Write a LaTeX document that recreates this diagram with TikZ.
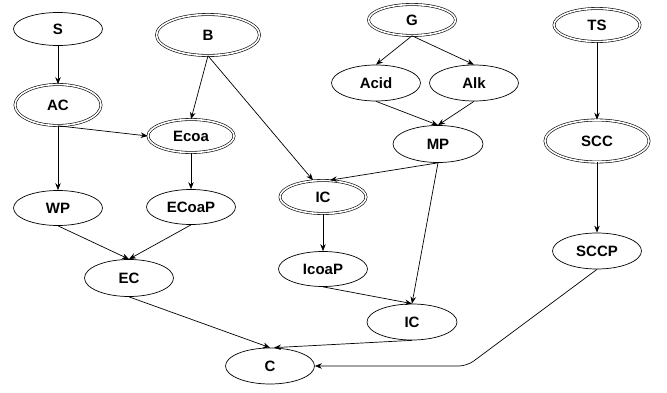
\documentclass[tikz,border=0pt]{standalone}
\usepackage{fontspec}
\setmainfont{Liberation Sans}
\usetikzlibrary{arrows.meta,shapes.geometric}

\begin{document}
\begin{tikzpicture}[x=1pt,y=1pt,>={Stealth[length=7pt,width=5.5pt]},
  font=\fontsize{15}{17}\selectfont\bfseries,
  st/.style={ellipse,draw,line width=0.7pt,inner sep=0pt,minimum width=89pt,minimum height=36pt},
  dbl/.style={st,double,double distance=1.6pt,line width=0.6pt},
  every path/.style={line width=0.7pt}]
\useasboundingbox (0,0) rectangle (667,-393);
% top row and left branch
\node[st,minimum height=33pt] (S) at (58,-29) {S};
\node[dbl,minimum width=103pt,minimum height=41pt] (B) at (208,-35) {B};
\node[dbl,minimum width=86pt,minimum height=41pt] (AC) at (58,-105) {AC};
\node[dbl,minimum width=86pt,minimum height=33pt] (Ecoa) at (191,-136) {Ecoa};
\node[st,minimum height=35pt] (WP) at (58,-208) {WP};
\node[st,minimum height=35pt] (ECoaP) at (191,-207) {ECoaP};
\node[st,minimum height=37pt] (EC) at (129,-278) {EC};
\node[st] (C) at (270,-366) {C};
% middle branch
\node[dbl,minimum width=87pt,minimum height=31pt] (G) at (412,-20) {G};
\node[st] (Acid) at (376,-83) {Acid};
\node[st] (Alk) at (474,-83) {Alk};
\node[st,minimum width=90pt,minimum height=37pt] (MP) at (438,-144) {MP};
\node[dbl,minimum width=86pt,minimum height=33pt] (ICa) at (323,-197) {IC};
\node[st,minimum height=35pt] (IcoaP) at (323,-269) {IcoaP};
\node[st,minimum width=90pt] (ICb) at (412,-322) {IC};
% right branch
\node[dbl,minimum width=86pt,minimum height=33pt] (TS) at (597,-25) {TS};
\node[dbl,minimum width=104pt,minimum height=42pt] (SCC) at (597,-141) {SCC};
\node[st] (SCCP) at (597,-251) {SCCP};
\coordinate (bend) at (467,-366);

\draw[->] (S) -- (AC);
\draw[->] (AC.south) -- (WP);
\draw[->] (AC.south) -- (Ecoa.west);
\draw[->] (B.south) -- (Ecoa.north);
\draw[->] (B.south) -- ([xshift=-10pt]ICa.north);
\draw[->] (Ecoa) -- (ECoaP);
\draw[->] (WP.south) -- (EC.north);
\draw[->] (ECoaP.south) -- (EC.north);
\draw[->] (EC.south) -- (C.north);
\draw[->] (G.south) -- (Acid.north);
\draw[->] (G.south) -- (Alk.north);
\draw[->] (Acid.south) -- (MP.north);
\draw[->] (Alk.south) -- (MP.north);
\draw[->] (MP.south) -- ([xshift=7pt]ICa.north);
\draw[->] (MP.south) -- (ICb.north);
\draw[->] (ICa) -- (IcoaP);
\draw[->] (IcoaP.south) -- (ICb.north);
\draw[->] (ICb.south) -- ([xshift=4pt]C.north);
\draw[->] (TS) -- (SCC);
\draw[->] (SCC) -- (SCCP);
\draw[->,rounded corners=8pt] (SCCP.south) -- (bend) -- (C.east);
\end{tikzpicture}
\end{document}
